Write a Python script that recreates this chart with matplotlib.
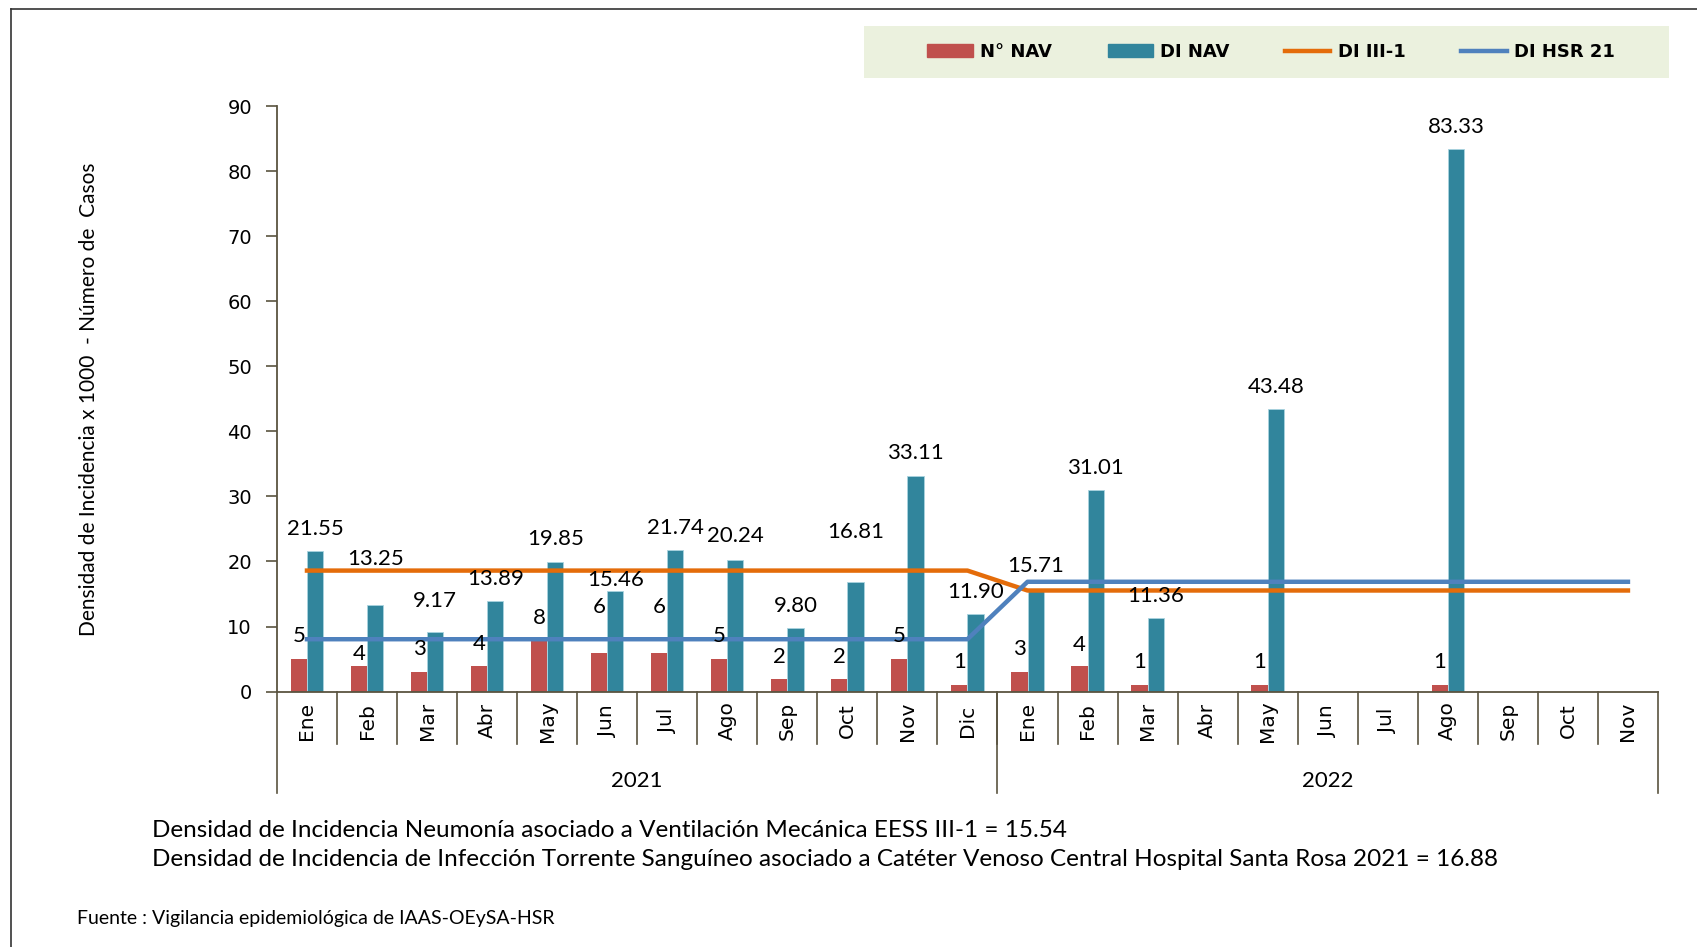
import numpy as np
import matplotlib
matplotlib.use("Agg")
import matplotlib.pyplot as plt
from matplotlib.patches import Rectangle, Patch
from matplotlib.lines import Line2D

# === datos ===
meses = ["Ene", "Feb", "Mar", "Abr", "May", "Jun", "Jul", "Ago", "Sep", "Oct", "Nov", "Dic",
         "Ene", "Feb", "Mar", "Abr", "May", "Jun", "Jul", "Ago", "Sep", "Oct", "Nov"]
anios = ["2021", "2022"]
meses_por_anio = [12, 11]
nan = np.nan
n_nav = [5, 4, 3, 4, 8, 6, 6, 5, 2, 2, 5, 1,
         3, 4, 1, nan, 1, nan, nan, 1, nan, nan, nan]
di_nav = [21.55, 13.25, 9.17, 13.89, 19.85, 15.46, 21.74, 20.24, 9.80, 16.81, 33.11, 11.90,
          15.71, 31.01, 11.36, nan, 43.48, nan, nan, 83.33, nan, nan, nan]
di_iii1 = [18.6] * 12 + [15.54] * 11
di_hsr21 = [8.05] * 12 + [16.88] * 11

# desplazamiento vertical de las etiquetas (como en el original, movidas a mano)
off_nav = [3.5, 1.8, 3.5, 3.3, 3.3, 7.0, 7.0, 3.5, 3.3, 3.3, 3.5, 3.5,
           3.5, 3.2, 3.5, 0, 3.5, 0, 0, 3.5, 0, 0, 0]
off_di = [3.4, 7.2, 4.8, 3.4, 3.6, 1.7, 3.4, 3.6, 3.3, 7.7, 3.5, 3.4,
          3.6, 3.4, 3.4, 0, 3.4, 0, 0, 3.5, 0, 0, 0]

c_red, c_teal, c_orange, c_blue = "#C0504D", "#31859C", "#E46C0A", "#4F81BD"
c_axis = "#5a5440"
lbl_font = ["Lato", "DejaVu Sans"]

fig = plt.figure(figsize=(16.97, 9.47), dpi=100)
ax = fig.add_axes([0.1632, 0.2697, 0.977 - 0.1632, 0.888 - 0.2697])

x = np.arange(len(meses))
w = 0.27
ax.bar(x - w / 2, n_nav, width=w, color=c_red, zorder=2)
ax.bar(x + w / 2, di_nav, width=w, color=c_teal, edgecolor="#a9d4df", linewidth=0.6, zorder=2)
ax.plot(x, di_iii1, color=c_orange, lw=3.2, zorder=3)
ax.plot(x, di_hsr21, color=c_blue, lw=3.2, zorder=4)

for i in range(len(meses)):
    if not np.isnan(n_nav[i]):
        ax.text(x[i] - w / 2, n_nav[i] + off_nav[i], f"{int(n_nav[i])}", ha="center", va="center",
                fontsize=16, family=lbl_font, zorder=5)
    if not np.isnan(di_nav[i]):
        ax.text(x[i] + w / 2, di_nav[i] + off_di[i], f"{di_nav[i]:.2f}", ha="center", va="center",
                fontsize=16, family=lbl_font, zorder=5)

ax.set_xlim(-0.5, len(meses) - 0.5)
ax.set_ylim(0, 90)
ax.set_yticks(range(0, 91, 10))
ax.tick_params(axis="y", length=8, width=1.2, color=c_axis, labelsize=14, pad=10)
ax.set_xticks([])
for s in ["top", "right"]:
    ax.spines[s].set_visible(False)
for s in ["left", "bottom"]:
    ax.spines[s].set_color(c_axis)
    ax.spines[s].set_linewidth(1.3)

# ejes de categorias: meses y años
trans = ax.get_xaxis_transform()
for b in range(1, len(meses)):
    ax.plot([b - 0.5, b - 0.5], [0, -0.09], color=c_axis, lw=1.2, transform=trans, clip_on=False)
for i, m in enumerate(meses):
    ax.text(i, -0.05, m, rotation=90, ha="center", va="center", fontsize=14.5,
            family="DejaVu Sans", transform=trans)
bordes = [-0.5]
for n in meses_por_anio:
    bordes.append(bordes[-1] + n)
for b in bordes:
    ax.plot([b, b], [0, -0.174], color=c_axis, lw=1.2, transform=trans, clip_on=False)
for a, b0, b1 in zip(anios, bordes[:-1], bordes[1:]):
    ax.text((b0 + b1) / 2, -0.152, a, ha="center", va="center", fontsize=16,
            family=lbl_font, transform=trans)

ax.set_ylabel("Densidad de Incidencia x 1000  - Número de  Casos", fontsize=15,
              family=lbl_font, labelpad=0)
ax.yaxis.set_label_coords(-0.129, 0.5)

# leyenda
fig.add_artist(Rectangle((0.509, 0.9176), 0.4745, 0.0549, transform=fig.transFigure,
                         facecolor="#EBF1DE", edgecolor="none"))
handles = [Patch(color=c_red), Patch(color=c_teal),
           Line2D([], [], color=c_orange, lw=3.2), Line2D([], [], color=c_blue, lw=3.2)]
fig.legend(handles, ["N° NAV", "DI NAV", "DI III-1", "DI HSR 21"], loc="center",
           bbox_to_anchor=(0.749, 0.945), ncol=4, frameon=False, handlelength=2.5,
           handletextpad=0.4, columnspacing=3.1,
           prop={"family": "DejaVu Sans", "weight": "bold", "size": 13})

# notas
fig.text(0.0893, 0.1225, "Densidad de Incidencia Neumonía asociado a Ventilación Mecánica EESS III-1 = 15.54",
         fontsize=17.5, family=lbl_font, va="center")
fig.text(0.0893, 0.092, "Densidad de Incidencia de Infección Torrente Sanguíneo asociado a Catéter Venoso Central Hospital Santa Rosa 2021 = 16.88",
         fontsize=17.5, family=lbl_font, va="center")
fig.text(0.0453, 0.0306, "Fuente : Vigilancia epidemiológica de IAAS-OEySA-HSR",
         fontsize=14, family=lbl_font, va="center")

# marco
fig.add_artist(Line2D([0.0064, 0.0064], [0, 0.9908], transform=fig.transFigure, color="#333333", lw=1.2))
fig.add_artist(Line2D([0.0064, 1], [0.9908, 0.9908], transform=fig.transFigure, color="#333333", lw=1.2))

fig.savefig("out.png", dpi=100)
